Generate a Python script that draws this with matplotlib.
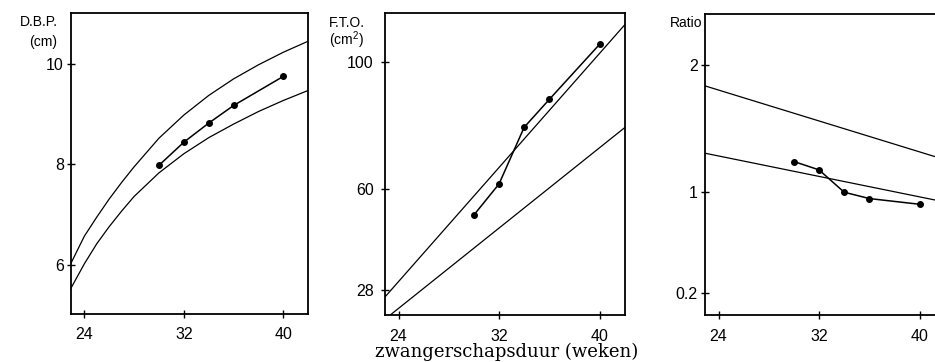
"""
Three-panel plot of foetal growth measures against pregnancy duration:
- D.B.P. (cm), F.T.O. (cm2) and Ratio
- reference band (two lines) plus the observed series
"""

import matplotlib.pyplot as plt

# ---------------------- Data ---------------------- #

week_ticks = [24, 32, 40]
weeks_obs = [30, 32, 34, 36, 40]

# D.B.P. reference curves
dbp_weeks = [22.8, 24, 25, 26, 27, 28, 30, 32, 34, 36, 38, 40, 42]
dbp_upper = [5.97, 6.57, 6.95, 7.31, 7.64, 7.95, 8.52, 8.98, 9.37, 9.70, 9.98, 10.23, 10.45]
dbp_lower = [5.48, 6.02, 6.42, 6.76, 7.07, 7.36, 7.83, 8.21, 8.53, 8.80, 9.05, 9.27, 9.47]
dbp_obs = [7.98, 8.44, 8.82, 9.17, 9.75]
dbp_ticks = [6, 8, 10]

# F.T.O. reference lines
fto_weeks = [22.9, 42.1]
fto_upper = [25.8, 112.3]
fto_lower = [18.8, 79.7]
fto_obs = [51.8, 61.6, 79.5, 88.3, 105.7]
fto_ticks = [28, 60, 100]

# Ratio reference lines
ratio_weeks = [22.9, 42.0]
ratio_upper = [1.834, 1.252]
ratio_lower = [1.303, 0.918]
ratio_obs = [1.237, 1.171, 0.995, 0.945, 0.90]
ratio_ticks = [0.2, 1, 2]
ratio_tick_labels = ["0.2", "1", "2"]

# ---------------------- Functions ---------------------- #

W, H = 935, 362


# Axes box from pixel coords (left, top, width, height).
def px_axes(fig, left, top, width, height):
    return fig.add_axes([left / W, 1 - (top + height) / H, width / W, height / H])


def style_axes(ax, yticks, ylim, ypad, ylabels=None):
    ax.set_xlim(22.9, 42.0)
    ax.set_ylim(*ylim)
    ax.set_xticks(week_ticks)
    ax.set_yticks(yticks)
    if ylabels is not None:
        ax.set_yticklabels(ylabels)
    for s in ax.spines.values():
        s.set_linewidth(1.3)
    ax.tick_params(direction="inout", length=6, width=1.0, labelsize=11.5)
    ax.tick_params(axis="x", pad=7)
    ax.tick_params(axis="y", pad=ypad)


def draw_panel(ax, weeks, upper, lower, obs):
    ax.plot(weeks, upper, color="black", lw=0.9)
    ax.plot(weeks, lower, color="black", lw=0.9)
    ax.plot(weeks_obs, obs, color="black", lw=1.1, marker="o", markersize=4)


def label(fig, x, y, text, size=10):
    fig.text(x / W, 1 - y / H, text, ha="right", va="center", fontsize=size)


# --------------------------- Main --------------------------- #
def main():
    plt.rcParams["font.family"] = ["Liberation Sans", "DejaVu Sans"]
    plt.rcParams["mathtext.fontset"] = "custom"
    plt.rcParams["mathtext.rm"] = "Liberation Sans"
    fig = plt.figure(figsize=(W / 100, H / 100), dpi=100)

    ax1 = px_axes(fig, 70.7, 12.5, 237.6, 301)
    draw_panel(ax1, dbp_weeks, dbp_upper, dbp_lower, dbp_obs)
    style_axes(ax1, dbp_ticks, (5.03, 11.02), ypad=2)

    ax2 = px_axes(fig, 384.7, 13.3, 240, 301.7)
    draw_panel(ax2, fto_weeks, fto_upper, fto_lower, fto_obs)
    style_axes(ax2, fto_ticks, (20.2, 115.5), ypad=5)

    ax3 = px_axes(fig, 704.7, 14, 240, 301)
    draw_panel(ax3, ratio_weeks, ratio_upper, ratio_lower, ratio_obs)
    style_axes(ax3, ratio_ticks, (0.027, 2.40), ypad=2, ylabels=ratio_tick_labels)

    # axis titles sit above the y tick labels
    label(fig, 58, 22, "D.B.P.")
    label(fig, 57, 42, "(cm)")
    label(fig, 365, 23, "F.T.O.")
    label(fig, 364, 40, r"(cm$\mathrm{^2}$)")
    label(fig, 702, 23, "Ratio")

    fig.text(507 / W, 1 - 352 / H, "zwangerschapsduur (weken)",
             ha="center", va="center", fontsize=13, family="DejaVu Serif")

    fig.savefig("out.png", dpi=100)


if __name__ == "__main__":
    main()
